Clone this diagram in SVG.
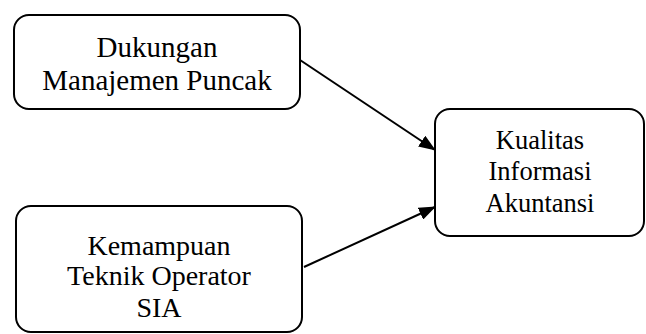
<svg xmlns="http://www.w3.org/2000/svg" width="646" height="334" viewBox="0 0 646 334">
<defs>
<style>
.box{fill:#fff;stroke:#000;stroke-width:2}
.t{font-family:"Liberation Serif","Times New Roman",serif;font-size:27px;fill:#000;text-anchor:middle}
.c{stroke:#000;stroke-width:2;fill:none}
</style>
<marker id="ah" markerWidth="17" markerHeight="13" refX="16" refY="6.5" orient="auto" markerUnits="userSpaceOnUse" viewBox="0 0 17 13">
<path d="M0,0 L17,6.5 L0,13 z" fill="#000"/>
</marker>
</defs>
<rect width="646" height="334" fill="#fff"/>
<g id="connectors">
<line class="c" x1="300" y1="60" x2="435" y2="150" marker-end="url(#ah)"/>
<line class="c" x1="304" y1="267" x2="435" y2="207" marker-end="url(#ah)"/>
</g>
<g id="n1">
<rect class="box" x="14" y="15" width="286" height="94" rx="15"/>
<text class="t" x="157" y="57" style="font-size:29px">Dukungan</text>
<text class="t" x="157" y="90" style="font-size:29px">Manajemen Puncak</text>
</g>
<g id="n2">
<rect class="box" x="16" y="206" width="286" height="126" rx="15"/>
<text class="t" x="159" y="255" style="font-size:28px">Kemampuan</text>
<text class="t" x="159" y="285" style="font-size:28px">Teknik Operator</text>
<text class="t" x="159" y="317" style="font-size:28px">SIA</text>
</g>
<g id="n3">
<rect class="box" x="435" y="109" width="209" height="127" rx="15"/>
<text class="t" x="540" y="149" style="font-size:26.5px">Kualitas</text>
<text class="t" x="540" y="180" style="font-size:26.5px">Informasi</text>
<text class="t" x="540" y="212" style="font-size:26.5px">Akuntansi</text>
</g>
</svg>
